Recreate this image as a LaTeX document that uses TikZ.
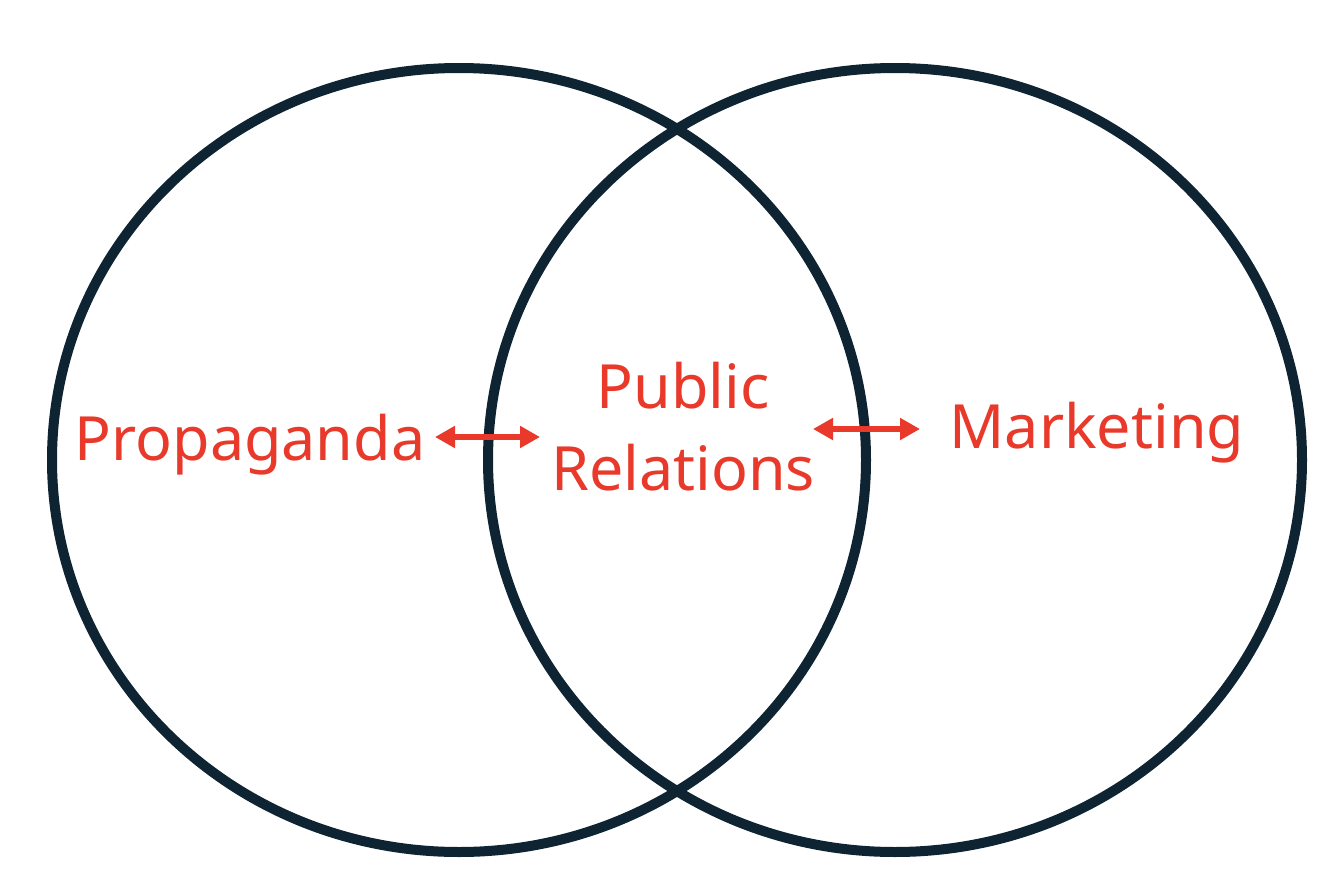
\documentclass[tikz,border=0pt]{standalone}
\usepackage{fontspec}
\setmainfont{Noto Sans}
\usetikzlibrary{shapes.geometric,arrows.meta}
\definecolor{ringcol}{HTML}{0E2433}
\definecolor{labred}{HTML}{E8392A}
\begin{document}
\begin{tikzpicture}[x=1pt,y=-1pt,
  ring/.style={draw=ringcol,line width=10pt,ellipse,inner sep=0pt,minimum width=814pt,minimum height=784pt},
  lab/.style={text=labred,font=\fontsize{61}{70}\selectfont,anchor=base,inner sep=0pt},
  dblarrow/.style={draw=labred,line width=6pt,{Triangle[length=20pt,width=21pt]}-{Triangle[length=20pt,width=21pt]}}]
\useasboundingbox (0,0) rectangle (1336,888);
\node[ring] (L) at (459,460) {};
\node[ring] (R) at (895,460) {};
\node[lab] (prop) at (250,460) {Propaganda};
\node[lab] (pub) at (683,408) {Public};
\node[lab] (rel) at (683,490) {Relations};
\node[lab] (mkt) at (1097,448) {Marketing};
\coordinate (a1) at (435,437);
\coordinate (a2) at (540,437);
\coordinate (b1) at (813,429);
\coordinate (b2) at (920,429);
\draw[dblarrow] (a1) -- (a2);
\draw[dblarrow] (b1) -- (b2);
\end{tikzpicture}
\end{document}
